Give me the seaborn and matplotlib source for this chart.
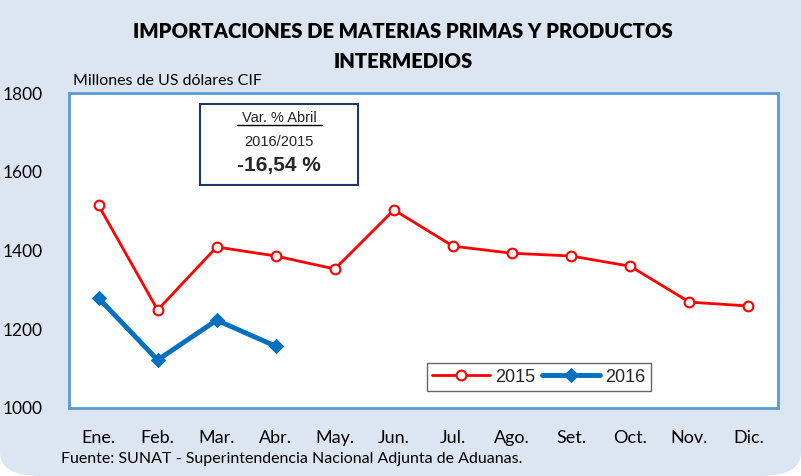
import matplotlib
matplotlib.use("Agg")
import matplotlib.pyplot as plt
import seaborn as sns
import pandas as pd
from matplotlib.patches import FancyBboxPatch

# Data
months = ['Ene.', 'Feb.', 'Mar.', 'Abr.', 'May.', 'Jun.', 'Jul.', 'Ago.', 'Set.', 'Oct.', 'Nov.', 'Dic.']
v2015 = [1515, 1249, 1409, 1386, 1353, 1503, 1411, 1393, 1386, 1360, 1269, 1259]
v2016 = [1279, 1122, 1223, 1157]
yticks = [1000, 1200, 1400, 1600, 1800]

df = pd.DataFrame({
    'mes': list(range(len(v2015))) + list(range(len(v2016))),
    'valor': v2015 + v2016,
    'anio': ['2015'] * len(v2015) + ['2016'] * len(v2016),
})

sns.set_style('white')
plt.rcParams['font.family'] = ['Lato', 'DejaVu Sans']

bg = '#DCE6F2'
fig = plt.figure(figsize=(8.01, 4.76), dpi=100)
fig.patch.set_facecolor('white')
fig.patches.append(FancyBboxPatch((0.0, 0.0), 1.0, 1.1, boxstyle='round,pad=0,rounding_size=0.05',
                                  transform=fig.transFigure, facecolor=bg, edgecolor='none', zorder=-10))

ax = fig.add_axes([69 / 801, 1 - 408 / 476, 709 / 801, 315 / 476])
ax.set_facecolor('white')

d15 = df[df['anio'] == '2015']
d16 = df[df['anio'] == '2016']
sns.lineplot(data=d15, x='mes', y='valor', ax=ax, color='#FF0000', lw=2, marker='o', markersize=7,
             markerfacecolor='white', markeredgecolor='#FF0000', markeredgewidth=1.5, label='2015')
sns.lineplot(data=d16, x='mes', y='valor', ax=ax, color='#0070C0', lw=3.5, marker='D', markersize=7,
             markerfacecolor='#0070C0', markeredgecolor='#0070C0', label='2016')

ax.set_xlim(-0.5, 11.5)
ax.set_ylim(1000, 1800)
ax.set_yticks(yticks)
ax.set_yticklabels([str(t) for t in yticks], fontsize=12.5, color='black')
ax.set_xticks([i - 0.5 for i in range(13)], minor=False)
ax.set_xticklabels([])
ax.set_xticks(range(12), minor=True)
ax.set_xticklabels(months, minor=True, fontsize=13, color='black')
ax.tick_params(axis='x', which='major', direction='in', length=5, color='#5B9BD5', width=1)
ax.tick_params(axis='x', which='minor', length=0, pad=16)
ax.tick_params(axis='y', direction='out', length=5, color='#5B9BD5', pad=14)
ax.set_xlabel('')
ax.set_ylabel('')
for s in ax.spines.values():
    s.set_color('#5B9BD5')
    s.set_linewidth(2)

leg = ax.legend(loc='lower left', bbox_to_anchor=(0.492, 0.025, 0.342, 0.095), mode='expand',
                ncol=2, frameon=True, fancybox=False, fontsize=13, handlelength=3.2,
                borderpad=0.3, columnspacing=1.0, handletextpad=0.3)
leg.get_frame().set_edgecolor('#404040')
leg.get_frame().set_linewidth(1)
for t in leg.get_texts():
    t.set_family('Liberation Sans')

# Variation box
box = FancyBboxPatch((200 / 801, 1 - 185 / 476), 158 / 801, 81 / 476, boxstyle='square,pad=0',
                     transform=fig.transFigure, facecolor='white', edgecolor='#1F3864', lw=1.5, zorder=5)
fig.patches.append(box)
cx = 279 / 801
fig.text(cx, 1 - 118 / 476, 'Var. % Abril', ha='center', va='center', fontsize=10.5,
         family='Liberation Sans', zorder=6)
fig.lines.append(plt.Line2D([237 / 801, 322 / 801], [1 - 125 / 476, 1 - 125 / 476],
                            transform=fig.transFigure, color='black', lw=1, zorder=6))
fig.text(cx, 1 - 142 / 476, '2016/2015', ha='center', va='center', fontsize=10.5,
         family='Liberation Sans', zorder=6)
fig.text(cx, 1 - 165 / 476, '-16,54 %', ha='center', va='center', fontsize=15, fontweight='bold',
         family='Liberation Sans', zorder=6)

fig.text(403 / 801, 1 - 32 / 476, 'IMPORTACIONES DE MATERIAS PRIMAS Y PRODUCTOS', ha='center',
         va='center', fontsize=14.6, fontweight='heavy', color='black')
fig.text(403 / 801, 1 - 62 / 476, 'INTERMEDIOS', ha='center', va='center', fontsize=14.6,
         fontweight='heavy', color='black')
fig.text(73 / 801, 1 - 81 / 476, 'Millones de US dólares CIF', ha='left', va='center', fontsize=11.5,
         color='black')
fig.text(61 / 801, 1 - 459 / 476, 'Fuente: SUNAT - Superintendencia Nacional Adjunta de Aduanas.',
         ha='left', va='center', fontsize=11.5, color='black')

fig.savefig('out.png', dpi=100, facecolor=fig.get_facecolor())
